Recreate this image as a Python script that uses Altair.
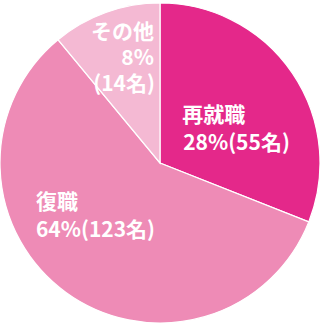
import altair as alt
import pandas as pd

categories = ["再就職", "復職", "その他"]
# slice sizes as drawn in the picture (angle shares, %)
shares = [31, 58, 11]
pct_labels = ["28%", "64%", "8%"]
counts = [55, 123, 14]
colors = ["#E4288A", "#EE8BB6", "#F4B9D3"]

df = pd.DataFrame({
    "cat": categories,
    "share": shares,
    "idx": list(range(len(categories))),
    "pct": pct_labels,
    "cnt": counts,
})

base = alt.Chart(df).encode(
    theta=alt.Theta("share:Q", stack=True),
    order=alt.Order("idx:Q"),
)

pie = base.mark_arc(stroke="white", strokeWidth=1.2, outerRadius=160).encode(
    color=alt.Color("cat:N", scale=alt.Scale(domain=categories, range=colors), legend=None)
)

FONT = "Noto Sans CJK JP"


def label(cat, expr, align, dx, dy):
    return base.transform_calculate(
        t=f"datum.cat === '{cat}' ? {expr} : ''"
    ).mark_text(
        radius=80, align=align, baseline="middle", dx=dx, dy=dy,
        font=FONT, fontSize=21, fontWeight="bold", color="white"
    ).encode(text="t:N")


layers = [
    pie,
    label("再就職", "datum.cat", "left", -44, -2),
    label("再就職", "datum.pct + '(' + datum.cnt + '名)'", "left", -43, 26),
    label("復職", "datum.cat", "left", -77, -25),
    label("復職", "datum.pct + '(' + datum.cnt + '名)'", "left", -77, 3),
    label("その他", "datum.cat", "right", 21, -55),
    label("その他", "datum.pct", "right", 21, -29),
    label("その他", "'(' + datum.cnt + '名)'", "right", 22, -3),
]

chart = alt.layer(*layers).properties(
    width=320, height=323,
    padding={"top": 3, "bottom": 0, "left": 0, "right": 0},
    autosize=alt.AutoSizeParams(type="fit", contains="padding"),
).configure_view(stroke=None)

chart.save("out.html", embed_options={"renderer": "svg", "actions": False})
